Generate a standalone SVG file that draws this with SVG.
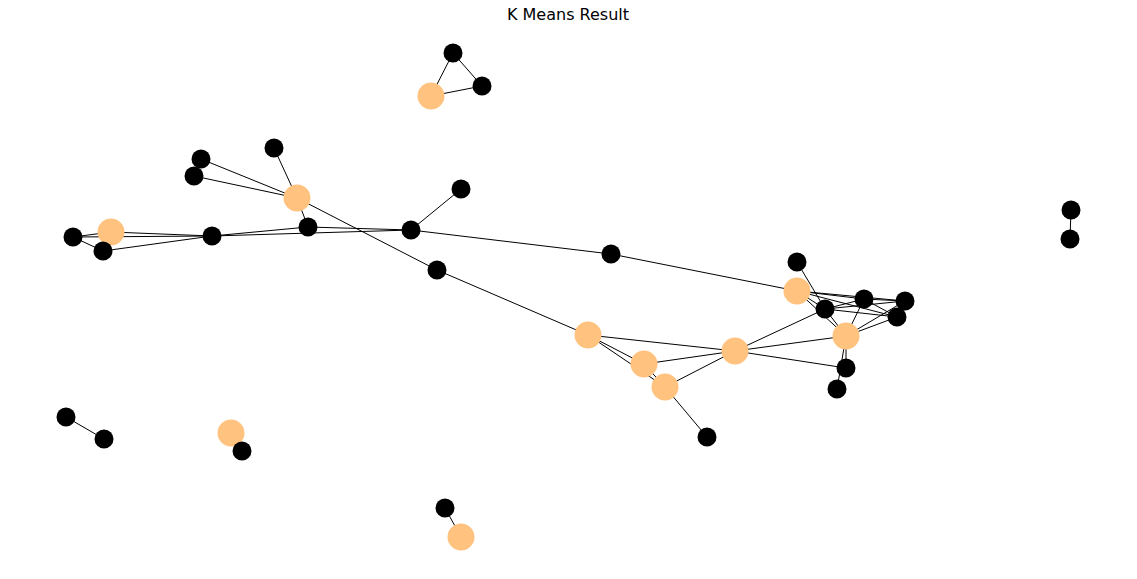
<svg xmlns="http://www.w3.org/2000/svg" width="1137" height="579" viewBox="0 0 1137 579">
<style>
.e line{stroke:#000;stroke-width:1}
.b{fill:#000}
.o{fill:#ffc37f}
text{font-family:"DejaVu Sans",sans-serif;font-size:16px}
</style>
<rect width="1137" height="579" fill="#fff"/>
<text x="568" y="20" text-anchor="middle">K Means Result</text>
<g id="edges" class="e">
<line x1="453" y1="53" x2="482" y2="86"/>
<line x1="453" y1="53" x2="431" y2="96"/>
<line x1="431" y1="96" x2="482" y2="86"/>
<line x1="274" y1="148" x2="297" y2="198"/>
<line x1="201" y1="159" x2="297" y2="198"/>
<line x1="194" y1="176" x2="297" y2="198"/>
<line x1="297" y1="198" x2="308" y2="227"/>
<line x1="297" y1="198" x2="437" y2="270"/>
<line x1="437" y1="270" x2="588" y2="335"/>
<line x1="461" y1="189" x2="411" y2="230"/>
<line x1="308" y1="227" x2="411" y2="230"/>
<line x1="212" y1="236" x2="411" y2="230"/>
<line x1="212" y1="236" x2="308" y2="227"/>
<line x1="111" y1="232" x2="212" y2="236"/>
<line x1="73" y1="237" x2="212" y2="236"/>
<line x1="73" y1="237" x2="111" y2="232"/>
<line x1="73" y1="237" x2="103" y2="251"/>
<line x1="103" y1="251" x2="212" y2="236"/>
<line x1="411" y1="230" x2="611" y2="254"/>
<line x1="611" y1="254" x2="797" y2="291"/>
<line x1="797" y1="262" x2="825" y2="309"/>
<line x1="797" y1="291" x2="825" y2="309"/>
<line x1="797" y1="291" x2="846" y2="336"/>
<line x1="797" y1="291" x2="864" y2="299"/>
<line x1="797" y1="291" x2="905" y2="301"/>
<line x1="797" y1="291" x2="897" y2="317"/>
<line x1="825" y1="309" x2="846" y2="336"/>
<line x1="825" y1="309" x2="864" y2="299"/>
<line x1="825" y1="309" x2="905" y2="301"/>
<line x1="825" y1="309" x2="897" y2="317"/>
<line x1="846" y1="336" x2="864" y2="299"/>
<line x1="846" y1="336" x2="905" y2="301"/>
<line x1="846" y1="336" x2="897" y2="317"/>
<line x1="864" y1="299" x2="905" y2="301"/>
<line x1="864" y1="299" x2="897" y2="317"/>
<line x1="846" y1="336" x2="846" y2="368"/>
<line x1="846" y1="336" x2="837" y2="389"/>
<line x1="735" y1="351" x2="846" y2="368"/>
<line x1="735" y1="351" x2="846" y2="336"/>
<line x1="735" y1="351" x2="825" y2="309"/>
<line x1="588" y1="335" x2="735" y2="351"/>
<line x1="588" y1="335" x2="644" y2="364"/>
<line x1="588" y1="335" x2="665" y2="387"/>
<line x1="644" y1="364" x2="665" y2="387"/>
<line x1="644" y1="364" x2="735" y2="351"/>
<line x1="665" y1="387" x2="735" y2="351"/>
<line x1="665" y1="387" x2="707" y2="437"/>
<line x1="1071" y1="210" x2="1070" y2="239"/>
<line x1="66" y1="417" x2="104" y2="439"/>
<line x1="231" y1="433" x2="242" y2="451"/>
<line x1="445" y1="508" x2="461" y2="537"/>
</g>
<g id="n1"><circle class="b" cx="453" cy="53" r="9.5"/></g>
<g id="n2"><circle class="b" cx="482" cy="86" r="9.5"/></g>
<g id="n3"><circle class="o" cx="431" cy="96" r="13.5"/></g>
<g id="n4"><circle class="b" cx="274" cy="148" r="9.5"/></g>
<g id="n5"><circle class="b" cx="201" cy="159" r="9.5"/></g>
<g id="n6"><circle class="b" cx="194" cy="176" r="9.5"/></g>
<g id="n7"><circle class="o" cx="297" cy="198" r="13.5"/></g>
<g id="n8"><circle class="b" cx="461" cy="189" r="9.5"/></g>
<g id="n9"><circle class="b" cx="308" cy="227" r="9.5"/></g>
<g id="n10"><circle class="b" cx="411" cy="230" r="9.5"/></g>
<g id="n11"><circle class="o" cx="111" cy="232" r="13.5"/></g>
<g id="n12"><circle class="b" cx="73" cy="237" r="9.5"/></g>
<g id="n13"><circle class="b" cx="103" cy="251" r="9.5"/></g>
<g id="n14"><circle class="b" cx="212" cy="236" r="9.5"/></g>
<g id="n15"><circle class="b" cx="611" cy="254" r="9.5"/></g>
<g id="n16"><circle class="b" cx="437" cy="270" r="9.5"/></g>
<g id="n17"><circle class="b" cx="797" cy="262" r="9.5"/></g>
<g id="n18"><circle class="o" cx="797" cy="291" r="13.5"/></g>
<g id="n19"><circle class="b" cx="864" cy="299" r="9.5"/></g>
<g id="n20"><circle class="b" cx="905" cy="301" r="9.5"/></g>
<g id="n21"><circle class="b" cx="825" cy="309" r="9.5"/></g>
<g id="n22"><circle class="b" cx="897" cy="317" r="9.5"/></g>
<g id="n23"><circle class="o" cx="846" cy="336" r="13.5"/></g>
<g id="n24"><circle class="o" cx="588" cy="335" r="13.5"/></g>
<g id="n25"><circle class="o" cx="644" cy="364" r="13.5"/></g>
<g id="n26"><circle class="o" cx="735" cy="351" r="13.5"/></g>
<g id="n27"><circle class="o" cx="665" cy="387" r="13.5"/></g>
<g id="n28"><circle class="b" cx="846" cy="368" r="9.5"/></g>
<g id="n29"><circle class="b" cx="837" cy="389" r="9.5"/></g>
<g id="n30"><circle class="b" cx="707" cy="437" r="9.5"/></g>
<g id="n31"><circle class="b" cx="1071" cy="210" r="9.5"/></g>
<g id="n32"><circle class="b" cx="1070" cy="239" r="9.5"/></g>
<g id="n33"><circle class="b" cx="66" cy="417" r="9.5"/></g>
<g id="n34"><circle class="b" cx="104" cy="439" r="9.5"/></g>
<g id="n35"><circle class="o" cx="231" cy="433" r="13.5"/></g>
<g id="n36"><circle class="b" cx="242" cy="451" r="9.5"/></g>
<g id="n37"><circle class="b" cx="445" cy="508" r="9.5"/></g>
<g id="n38"><circle class="o" cx="461" cy="537" r="13.5"/></g>
</svg>
